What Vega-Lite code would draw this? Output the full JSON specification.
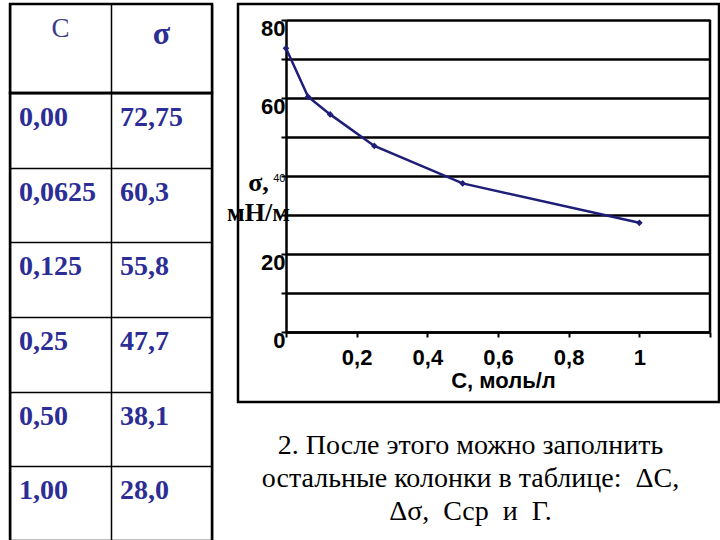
{
  "$schema": "https://vega.github.io/schema/vega-lite/v6.json",
  "padding": {"left": 8, "top": 2, "right": 0, "bottom": 0},
  "background": "white",
  "spacing": 11,
  "config": {"view": {"stroke": "black", "strokeWidth": 2.5}},
  "datasets": {
    "pts": [
      {"C": 0, "sigma": 72.75, "cText": "0,00", "sText": "72,75"},
      {"C": 0.0625, "sigma": 60.3, "cText": "0,0625", "sText": "60,3"},
      {"C": 0.125, "sigma": 55.8, "cText": "0,125", "sText": "55,8"},
      {"C": 0.25, "sigma": 47.7, "cText": "0,25", "sText": "47,7"},
      {"C": 0.5, "sigma": 38.1, "cText": "0,50", "sText": "38,1"},
      {"C": 1, "sigma": 28, "cText": "1,00", "sText": "28,0"}
    ]
  },
  "hconcat": [
    {
      "vconcat": [
        {
          "width": 202,
          "height": 89,
          "layer": [
            {
              "data": {"values": [{"col": "cText", "txt": "C"}]},
              "mark": {"type": "text", "align": "center", "baseline": "alphabetic", "dy": -12, "font": "Liberation Serif", "fontSize": 27, "fontWeight": "normal", "color": "#3c3c8c"},
              "encoding": {
                "x": {"field": "col", "type": "nominal",
                  "scale": {"domain": ["cText", "sText"], "paddingInner": 0, "paddingOuter": 0},
                  "axis": {"grid": true, "tickBand": "extent", "labels": false, "ticks": false, "domain": false, "title": null, "gridColor": "black", "gridWidth": 1.5, "gridOpacity": 1}},
                "text": {"field": "txt"}
              }
            },
            {
              "data": {"values": [{"col": "sText", "txt": "σ"}]},
              "mark": {"type": "text", "align": "center", "baseline": "alphabetic", "dy": -5, "font": "Liberation Serif", "fontSize": 32, "fontWeight": "bold", "color": "#2d2d96"},
              "encoding": {
                "x": {"field": "col", "type": "nominal"},
                "text": {"field": "txt"}
              }
            }
          ]
        },
        {
          "width": 202,
          "height": 448,
          "data": {"name": "pts"},
          "transform": [{"fold": ["cText", "sText"], "as": ["col", "txt"]}],
          "mark": {"type": "text", "align": "left", "baseline": "alphabetic", "dx": -41.5, "dy": -4.5, "font": "Liberation Serif", "fontSize": 28, "fontWeight": "bold", "color": "#2d2d96"},
          "encoding": {
            "x": {"field": "col", "type": "nominal",
              "scale": {"domain": ["cText", "sText"], "paddingInner": 0, "paddingOuter": 0},
              "axis": {"grid": true, "tickBand": "extent", "labels": false, "ticks": false, "domain": false, "title": null, "gridColor": "black", "gridWidth": 1.5, "gridOpacity": 1}},
            "y": {"field": "cText", "type": "nominal",
              "scale": {"domain": ["0,00", "0,0625", "0,125", "0,25", "0,50", "1,00"], "paddingInner": 0, "paddingOuter": 0},
              "axis": {"grid": true, "tickBand": "extent", "labels": false, "ticks": false, "domain": false, "title": null, "gridColor": "black", "gridWidth": 1.5, "gridOpacity": 1}},
            "text": {"field": "txt"}
          }
        }
      ],
      "spacing": 0,
      "bounds": "flush"
    },
    {
      "width": 481,
      "height": 398,
      "data": {"name": "pts"},
      "title": {
        "text": ["2. После этого можно заполнить", "остальные колонки в таблице:\u00a0 ΔC,", "Δσ,\u00a0 Сср\u00a0 и\u00a0 Г."],
        "orient": "bottom", "anchor": "middle", "frame": "group",
        "font": "Liberation Serif", "fontSize": 28, "fontWeight": "normal", "color": "black",
        "lineHeight": 33, "offset": 30, "dx": -8, "baseline": "top"
      },
      "layer": [
        {
          "mark": {"type": "line", "color": "#1e1e78", "strokeWidth": 2.5},
          "encoding": {
            "x": {"field": "C", "type": "quantitative",
              "scale": {"domain": [0, 1.2], "range": [48, 472], "nice": false, "zero": false},
              "axis": {
                "orient": "bottom", "offset": -70,
                "values": [0, 0.2, 0.4, 0.6, 0.8, 1, 1.2],
                "format": ".1~f",
                "labelExpr": "datum.value > 0 && datum.value < 1.1 ? replace(datum.label, '.', ',') : ''",
                "labelFont": "Liberation Sans", "labelFontSize": 22, "labelFontWeight": "bold", "labelColor": "black",
                "labelBaseline": "middle", "labelPadding": 20, "labelAngle": 0,
                "tickSize": 5, "tickWidth": 2, "tickColor": "black",
                "domain": true, "domainColor": "black", "domainWidth": 2.5,
                "grid": false,
                "title": "С, моль/л", "titleFont": "Liberation Sans", "titleFontSize": 22, "titleFontWeight": "bold", "titleColor": "black",
                "titleX": 265, "titleY": 48, "titleAlign": "center", "titleBaseline": "middle"
              }},
            "y": {"field": "sigma", "type": "quantitative",
              "scale": {"domain": [0, 80], "range": [328, 16], "nice": false, "zero": false},
              "axis": {
                "orient": "left", "offset": -48,
                "values": [0, 10, 20, 30, 40, 50, 60, 70, 80],
                "labelExpr": "datum.value % 20 === 0 ? datum.label : ''",
                "labelFont": "Liberation Sans",
                "labelFontSize": {"condition": {"test": "datum.value === 40", "value": 11}, "value": 22},
                "labelFontWeight": {"condition": {"test": "datum.value === 40", "value": "normal"}, "value": "bold"},
                "labelOffset": {"condition": {"test": "datum.value === 40", "value": 2}, "value": 8},
                "labelPadding": -4,
                "labelColor": "black", "labelBaseline": "middle",
                "tickSize": 5, "tickWidth": 2, "tickColor": "black",
                "domain": true, "domainColor": "black", "domainWidth": 2.5,
                "grid": true, "gridColor": "black", "gridWidth": 2.5, "gridOpacity": 1,
                "title": ["σ,", "мН/м"], "titleFont": "Liberation Serif", "titleFontSize": 26, "titleFontWeight": "bold", "titleColor": "black",
                "titleAngle": 0, "titleX": -28, "titleY": 186, "titleAlign": "center", "titleBaseline": "alphabetic", "titleLineHeight": 30
              }}
          }
        },
        {
          "mark": {"type": "point", "shape": "diamond", "filled": true, "size": 45, "color": "#1e1e78", "opacity": 1},
          "encoding": {
            "x": {"field": "C", "type": "quantitative"},
            "y": {"field": "sigma", "type": "quantitative"}
          }
        },
        {
          "data": {"values": [{}]},
          "mark": {"type": "rule", "color": "black", "strokeWidth": 2.5},
          "encoding": {
            "x": {"datum": 1.2},
            "y": {"datum": 0},
            "y2": {"datum": 80}
          }
        }
      ]
    }
  ]
}
